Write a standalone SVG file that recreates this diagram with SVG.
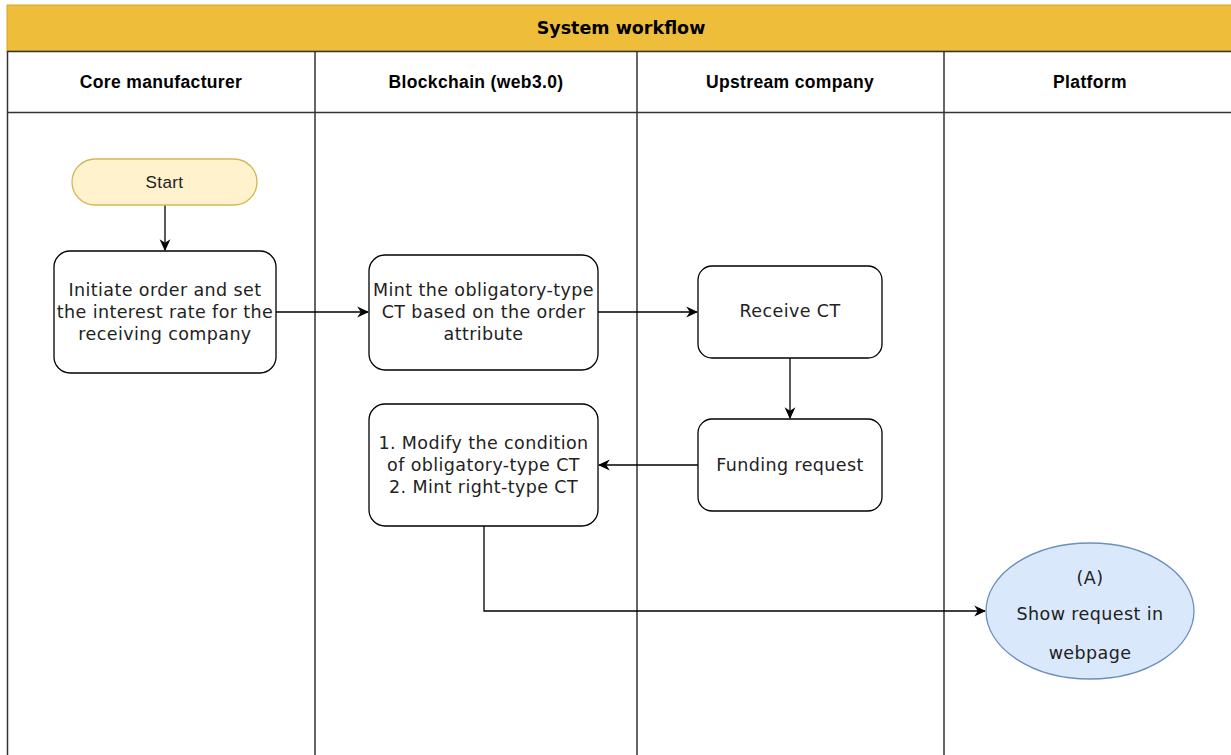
<svg xmlns="http://www.w3.org/2000/svg" width="1231" height="755" viewBox="0 0 1231 755">
<style>
.hdr{font-family:"Liberation Sans",Arial,sans-serif;font-weight:bold;font-size:17.5px;letter-spacing:0.35px;fill:#000;text-anchor:middle}
.title{font-family:"DejaVu Sans",Verdana,sans-serif;font-weight:bold;font-size:17.5px;fill:#000;text-anchor:middle}
.lane{stroke:#333;stroke-width:1.5;fill:none}
.box{fill:#fff;stroke:#000;stroke-width:1.3}
.t{font-family:"DejaVu Sans",Verdana,sans-serif;font-size:17.5px;letter-spacing:0.4px;fill:#222;text-anchor:middle}
.c{stroke:#000;stroke-width:1.3;fill:none}
</style>
<defs>
<marker id="ah" viewBox="0 0 10 10" refX="9" refY="5" markerWidth="12" markerHeight="12" markerUnits="userSpaceOnUse" orient="auto">
<path d="M0,0.5 L10,5 L0,9.5 L3,5 Z" fill="#000"/>
</marker>
</defs>
<rect width="1231" height="755" fill="#fff"/>
<g id="pool">
<rect x="7" y="5" width="1230" height="46" fill="#EEBE3A" stroke="#d4a52a" stroke-width="1"/>
<text class="title" x="621" y="34">System workflow</text>
<line class="lane" x1="7.5" y1="51" x2="7.5" y2="755"/>
<line class="lane" x1="7" y1="51.5" x2="1231" y2="51.5"/>
<line class="lane" x1="7" y1="112.5" x2="1231" y2="112.5"/>
<line class="lane" x1="315" y1="51" x2="315" y2="755"/>
<line class="lane" x1="637" y1="51" x2="637" y2="755"/>
<line class="lane" x1="944" y1="51" x2="944" y2="755"/>
<text class="hdr" x="161" y="88">Core manufacturer</text>
<text class="hdr" x="476" y="88">Blockchain (web3.0)</text>
<text class="hdr" x="790" y="88">Upstream company</text>
<text class="hdr" x="1090" y="88">Platform</text>
</g>
<g id="connectors">
<line class="c" x1="165" y1="205" x2="165" y2="250" marker-end="url(#ah)"/>
<line class="c" x1="276" y1="312" x2="368" y2="312" marker-end="url(#ah)"/>
<line class="c" x1="598" y1="312" x2="697" y2="312" marker-end="url(#ah)"/>
<line class="c" x1="790" y1="358" x2="790" y2="418" marker-end="url(#ah)"/>
<line class="c" x1="698" y1="465" x2="599" y2="465" marker-end="url(#ah)"/>
<polyline class="c" points="484,526 484,611 985,611" marker-end="url(#ah)"/>
</g>
<g id="start">
<rect x="72" y="159" width="185" height="46" rx="23" fill="#FFF2CC" stroke="#D6B656" stroke-width="1.3"/>
<text x="164.5" y="188" font-family="Liberation Sans,Arial,sans-serif" font-size="17" letter-spacing="0.4" fill="#222" text-anchor="middle">Start</text>
</g>
<g id="initiate">
<rect class="box" x="54" y="251" width="222" height="122" rx="16"/>
<text class="t" x="165" y="296">Initiate order and set</text>
<text class="t" x="165" y="318">the interest rate for the</text>
<text class="t" x="165" y="340">receiving company</text>
</g>
<g id="mint">
<rect class="box" x="369" y="255" width="229" height="115" rx="16"/>
<text class="t" x="483.5" y="296">Mint the obligatory-type</text>
<text class="t" x="483.5" y="318">CT based on the order</text>
<text class="t" x="483.5" y="340">attribute</text>
</g>
<g id="receive">
<rect class="box" x="698" y="266" width="184" height="92" rx="14"/>
<text class="t" x="790" y="317">Receive CT</text>
</g>
<g id="funding">
<rect class="box" x="698" y="419" width="184" height="92" rx="14"/>
<text class="t" x="790" y="471">Funding request</text>
</g>
<g id="modify">
<rect class="box" x="369" y="404" width="229" height="122" rx="16"/>
<text class="t" x="483.5" y="449">1. Modify the condition</text>
<text class="t" x="483.5" y="471">of obligatory-type CT</text>
<text class="t" x="483.5" y="493">2. Mint right-type CT</text>
</g>
<g id="show">
<ellipse cx="1090" cy="611" rx="104" ry="68" fill="#DAE8FC" stroke="#6C8EBF" stroke-width="1.3"/>
<text class="t" x="1090" y="584">(A)</text>
<text class="t" x="1090" y="620">Show request in</text>
<text class="t" x="1090" y="659">webpage</text>
</g>
</svg>
